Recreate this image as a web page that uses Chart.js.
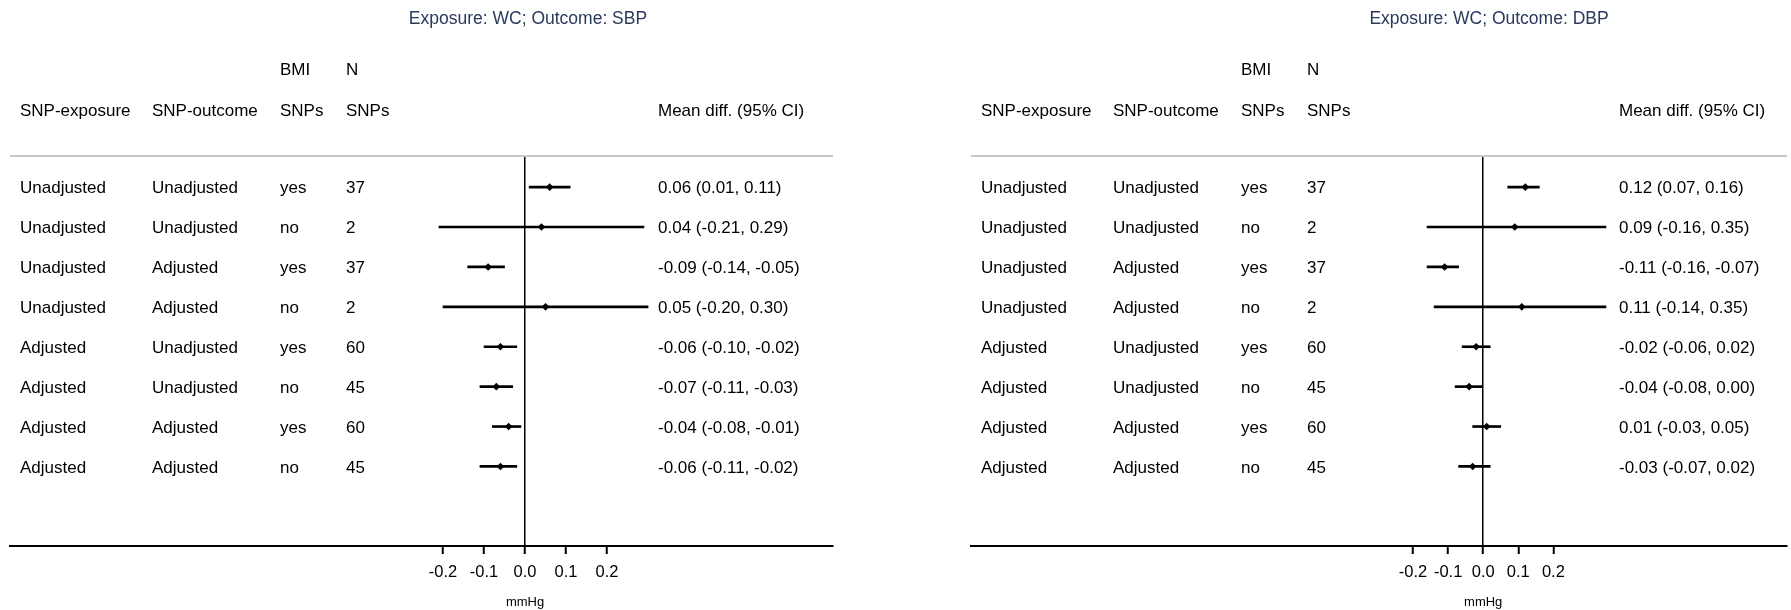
<!DOCTYPE html>
<html>
<head>
<meta charset="utf-8">
<script src="https://cdn.jsdelivr.net/npm/chart.js@4"></script>
<style>
  body { margin: 0; background: #fff; }
  canvas { position: absolute; top: 0; }
</style>
</head>
<body>
<canvas id="sbpChart" width="843" height="610" style="left:0"></canvas>
<canvas id="dbpChart" width="830" height="610" style="left:961px"></canvas>
<script>
// Study rows
const rows = [1, 2, 3, 4, 5, 6, 7, 8];
const snpExposure = ['Unadjusted', 'Unadjusted', 'Unadjusted', 'Unadjusted', 'Adjusted', 'Adjusted', 'Adjusted', 'Adjusted'];
const snpOutcome = ['Unadjusted', 'Unadjusted', 'Adjusted', 'Adjusted', 'Unadjusted', 'Unadjusted', 'Adjusted', 'Adjusted'];
const bmiSnps = ['yes', 'no', 'yes', 'no', 'yes', 'no', 'yes', 'no'];
const nSnps = [37, 2, 37, 2, 60, 45, 60, 45];

// Exposure WC, outcome SBP
const sbpEst = [0.06, 0.04, -0.09, 0.05, -0.06, -0.07, -0.04, -0.06];
const sbpLo = [0.01, -0.21, -0.14, -0.20, -0.10, -0.11, -0.08, -0.11];
const sbpHi = [0.11, 0.29, -0.05, 0.30, -0.02, -0.03, -0.01, -0.02];

// Exposure WC, outcome DBP
const dbpEst = [0.12, 0.09, -0.11, 0.11, -0.02, -0.04, 0.01, -0.03];
const dbpLo = [0.07, -0.16, -0.16, -0.14, -0.06, -0.08, -0.03, -0.07];
const dbpHi = [0.16, 0.35, -0.07, 0.35, 0.02, 0.00, 0.05, 0.02];

const xTicks = [-0.2, -0.1, 0, 0.1, 0.2];
const sbpRange = [-1.256, 0.751];
const dbpRange = [-1.460, 0.866];

const FONT = '"Liberation Sans", Arial, Helvetica, sans-serif';

function tablePlugin(title, est, lo, hi) {
	return {
		id: 'table',
		afterDraw(chart) {
			const c = chart.ctx;
			const area = chart.chartArea;
			const yScale = chart.scales.y;
			const xScale = chart.scales.x;
			c.save();
			// rule under the header
			c.strokeStyle = '#c8c8c8';
			c.lineWidth = 2;
			c.beginPath();
			c.moveTo(area.left, area.top);
			c.lineTo(area.right, area.top);
			c.stroke();

			c.textBaseline = 'middle';
			c.textAlign = 'center';
			c.fillStyle = '#2a3a5c';
			c.font = '17.5px ' + FONT;
			c.fillText(title, 528, 19);

			// axis title sits under the zero tick
			c.fillStyle = '#000';
			c.font = '13px ' + FONT;
			c.fillText('mmHg', xScale.getPixelForValue(0), 602);

			c.textAlign = 'left';
			c.font = '17px ' + FONT;
			c.fillText('BMI', 280, 70);
			c.fillText('N', 346, 70);
			c.fillText('SNP-exposure', 20, 111);
			c.fillText('SNP-outcome', 152, 111);
			c.fillText('SNPs', 280, 111);
			c.fillText('SNPs', 346, 111);
			c.fillText('Mean diff. (95% CI)', 658, 111);

			rows.forEach((r, i) => {
				const y = yScale.getPixelForValue(r) + 1.5;
				c.fillText(snpExposure[i], 20, y);
				c.fillText(snpOutcome[i], 152, y);
				c.fillText(bmiSnps[i], 280, y);
				c.fillText(String(nSnps[i]), 346, y);
				c.fillText(est[i].toFixed(2) + ' (' + lo[i].toFixed(2) + ', ' + hi[i].toFixed(2) + ')', 658, y);
			});
			c.restore();
		}
	};
}

function makePanel(id, title, est, lo, hi, range, padRight) {
	new Chart(document.getElementById(id), {
		type: 'scatter',
		data: {
			datasets: [{
				type: 'scatter',
				data: rows.map((r, i) => ({ x: est[i], y: r })),
				pointStyle: 'rectRot',
				pointRadius: 3.8,
				backgroundColor: '#000',
				borderColor: '#000',
				borderWidth: 0
			}, {
				type: 'bar',
				indexAxis: 'y',
				data: rows.map((r, i) => ({ y: r, x: [lo[i], hi[i]] })),
				backgroundColor: '#000',
				borderWidth: 0,
				barThickness: 2
			}]
		},
		options: {
			responsive: false,
			animation: false,
			devicePixelRatio: 1,
			layout: { padding: { top: 156, left: 10, right: padRight, bottom: 0 } },
			plugins: {
				legend: { display: false },
				tooltip: { enabled: false }
			},
			scales: {
				x: {
					type: 'linear',
					min: range[0],
					max: range[1],
					offset: false,
					afterBuildTicks(scale) {
						scale.ticks = xTicks.map(v => ({ value: v }));
					},
					afterFit(scale) {
						scale.height = 64;
					},
					ticks: {
						color: '#000',
						padding: 9,
						font: { family: FONT, size: 16.5 },
						callback: v => Number(v).toFixed(1)
					},
					grid: {
						offset: false,
						color: ctx => (ctx.tick && ctx.tick.value === 0 ? '#000' : 'rgba(0,0,0,0)'),
						lineWidth: 1.5,
						tickColor: '#000',
						tickWidth: 2,
						tickLength: 8
					},
					border: { display: true, color: '#000', width: 2 }
				},
				y: {
					type: 'linear',
					display: false,
					offset: false,
					grid: { offset: false },
					reverse: true,
					min: 0.22,
					max: 9.994
				}
			}
		},
		plugins: [tablePlugin(title, est, lo, hi)]
	});
}

makePanel('sbpChart', 'Exposure: WC; Outcome: SBP', sbpEst, sbpLo, sbpHi, sbpRange, 10);
makePanel('dbpChart', 'Exposure: WC; Outcome: DBP', dbpEst, dbpLo, dbpHi, dbpRange, 0);
</script>
</body>
</html>
